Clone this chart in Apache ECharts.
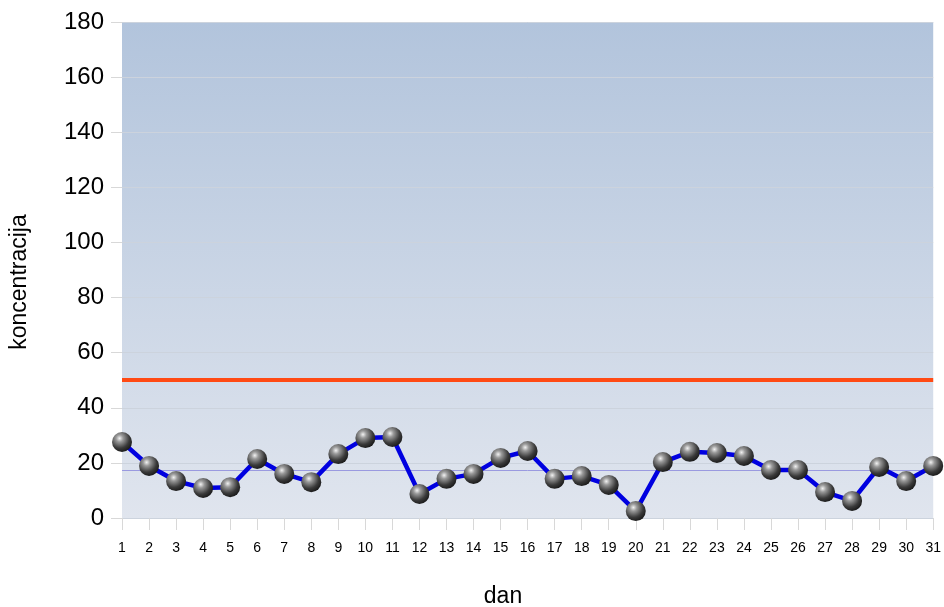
<!DOCTYPE html>
<html><head><meta charset="utf-8">
<script src="https://cdn.jsdelivr.net/npm/echarts@6/dist/echarts.min.js"></script>
<style>html,body{margin:0;padding:0;background:#fff}#c{width:944px;height:607px}</style>
</head><body><div id="c"></div>
<script>
const days = ['1','2','3','4','5','6','7','8','9','10','11','12','13','14','15','16','17','18','19','20','21','22','23','24','25','26','27','28','29','30','31'];
const concentration = [27.6,18.9,13.4,10.9,11.2,21.4,16,13,23.2,29,29.4,8.7,14.2,16,21.8,24.3,14.2,15.2,12,2.5,20.3,24,23.6,22.5,17.4,17.4,9.4,6.2,18.5,13.4,18.9];
const limitValue = 50;
const meanValue = 17.3;
const yTicks = [0,20,40,60,80,100,120,140,160,180];

const chart = echarts.init(document.getElementById('c'), null, {renderer:'canvas'});
const font = 'Liberation Sans, Arial, sans-serif';
chart.setOption({
  animation:false,
  grid:{left:122,right:8,top:22,bottom:89,show:true,borderWidth:0,
    backgroundColor:new echarts.graphic.LinearGradient(0,0,0,1,[{offset:0,color:'#b2c4dc'},{offset:1,color:'#e0e5ee'}])},
  xAxis:{type:'category',data:days,boundaryGap:false,
    axisLine:{show:false},
    axisTick:{show:true,alignWithLabel:true,length:12,lineStyle:{color:'#d8d8d8'}},
    axisLabel:{color:'#000',fontSize:14,fontFamily:font,margin:23}},
  yAxis:{type:'value',min:yTicks[0],max:yTicks[yTicks.length-1],interval:20,
    axisLine:{show:false},
    axisTick:{show:true,length:11,lineStyle:{color:'#d8d8d8'}},
    splitLine:{lineStyle:{color:'#ccd3dd',width:1}},
    axisLabel:{color:'#000',fontSize:24,fontFamily:font,margin:18}},
  graphic:[
    {type:'text',x:503,y:597,style:{text:'dan',font:'23px '+font,fill:'#000',align:'center',verticalAlign:'middle'}},
    {type:'text',x:20,y:282,rotation:Math.PI/2,style:{text:'koncentracija',font:'23px '+font,fill:'#000',align:'center',verticalAlign:'middle'}}
  ],
  series:[
    {type:'line',data:concentration,
      lineStyle:{color:'#0000e0',width:4.5},
      symbol:'circle',symbolSize:20,z:5,
      itemStyle:{color:new echarts.graphic.RadialGradient(0.38,0.32,0.7,[{offset:0,color:'#f2f2f2'},{offset:0.25,color:'#9a9a9a'},{offset:0.7,color:'#3a3a3a'},{offset:1,color:'#1a1a1a'}]),borderWidth:0},
      markLine:{silent:true,symbol:'none',label:{show:false},
        data:[
          {yAxis:limitValue,lineStyle:{color:'#ff4a14',width:4,type:'solid'}},
          {yAxis:meanValue,lineStyle:{color:'#9a9ae0',width:1,type:'solid'}}
        ]}
    }
  ]
});
</script></body></html>
